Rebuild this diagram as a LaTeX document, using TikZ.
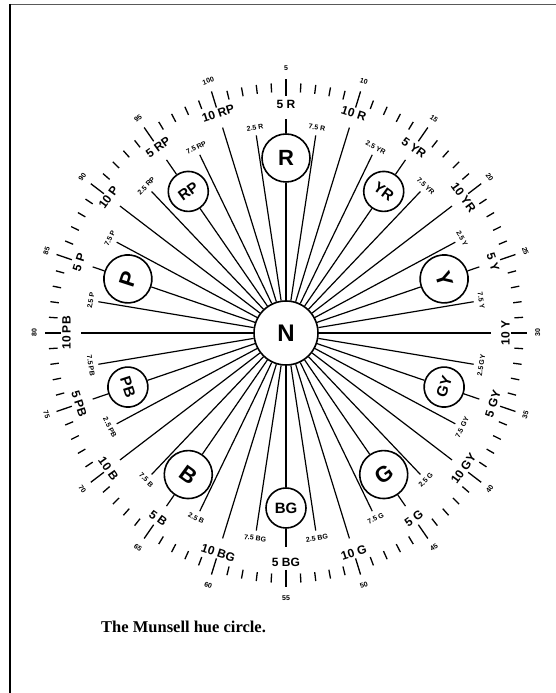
\documentclass[tikz,border=0pt]{standalone}
\usepackage{fontspec}
\setmainfont{Liberation Sans}
\newfontfamily\capfont{Liberation Serif}
\newcommand\calcrot[1]{%
  \pgfmathsetmacro\na{180-mod(180-(#1)+720,360)}%
  \pgfmathsetmacro\rot{\na>0 ? \na-90 : \na+90}}
\begin{document}
\begin{tikzpicture}[x=1pt,y=1pt,
  ray/.style={line width=1.2pt},
  tickmark/.style={line width=1.3pt},
  huecirc/.style={circle, draw, line width=1.6pt, inner sep=0pt, fill=white},
  biglbl/.style={inner sep=0pt, font=\bfseries\fontsize{12}{12}\selectfont},
  smalllbl/.style={inner sep=0pt, font=\bfseries\fontsize{7}{7}\selectfont},
  numlbl/.style={inner sep=0pt, font=\bfseries\fontsize{7}{7}\selectfont}]
\useasboundingbox (0,0) rectangle (556,693);
% frame lines
\draw[line width=1.3pt, black!65] (9,688.5) -- (556,688.5);
\draw[line width=1.5pt] (10,689) -- (10,0);
\begin{scope}[shift={(286,360)}, xscale=0.95]
  \node[huecirc, minimum size=64pt, font=\bfseries\fontsize{24}{24}\selectfont] (N) at (0,0) {N};
  % outer tick ring
  \foreach \n in {1,...,100}{
    \pgfmathsetmacro\a{108-3.6*\n}
    \pgfmathtruncatemacro\isfive{mod(\n,5)==0 ? 1 : 0}
    \ifnum\isfive=1
      \coordinate (ti\n) at (\a:237);
      \coordinate (to\n) at (\a:254);
    \else
      \coordinate (ti\n) at (\a:241);
      \coordinate (to\n) at (\a:250);
    \fi
    \draw[tickmark] (ti\n) -- (to\n);
  }
  % outer numbers
  \foreach \n in {5,10,...,100}{
    \pgfmathsetmacro\a{108-3.6*\n}
    \calcrot{\a}
    \node[numlbl, rotate=\rot] (num\n) at (\a:265) {\n};
  }
  % hues
  \foreach \h [count=\i from 0] in {R,YR,Y,GY,G,BG,B,PB,P,RP}{
    \pgfmathsetmacro\th{90-36*\i}
    \pgfmathtruncatemacro\csize{mod(\i,2)==0 ? 48 : 40}
    \pgfmathtruncatemacro\fsize{mod(\i,2)==0 ? 22 : 15}
    % 5 (principal) line with circle
    \calcrot{\th}
    \node[huecirc, minimum size=\csize pt, font=\bfseries\fontsize{\fsize}{\fsize}\selectfont, rotate=\rot] (h\i) at (\th:175) {\h};
    \draw[ray] (N) -- (h\i);
    \coordinate (s\i) at (\th:214);
    \draw[ray] (h\i) -- (s\i);
    \node[biglbl, rotate=\rot] (tf\i) at (\th:229) {5 \h};
    % 2.5
    \pgfmathsetmacro\ab{\th+9}
    \calcrot{\ab}
    \coordinate (eb\i) at (\ab:200);
    \draw[ray] (N) -- (eb\i);
    \node[smalllbl, rotate=\rot] (tb\i) at (\ab:208) {2.5 \h};
    % 7.5
    \pgfmathsetmacro\ac{\th-9}
    \calcrot{\ac}
    \coordinate (ec\i) at (\ac:200);
    \draw[ray] (N) -- (ec\i);
    \node[smalllbl, rotate=\rot] (tc\i) at (\ac:208) {7.5 \h};
    % 10
    \pgfmathsetmacro\ad{\th-18}
    \calcrot{\ad}
    \coordinate (ed\i) at (\ad:216);
    \draw[ray] (N) -- (ed\i);
    \node[biglbl, rotate=\rot] (td\i) at (\ad:231) {10 \h};
  }
\end{scope}
\node[anchor=base west, inner sep=0pt, font=\capfont\bfseries\fontsize{16.5}{17}\selectfont] (cap) at (101,60) {The Munsell hue circle.};
\end{tikzpicture}
\end{document}
